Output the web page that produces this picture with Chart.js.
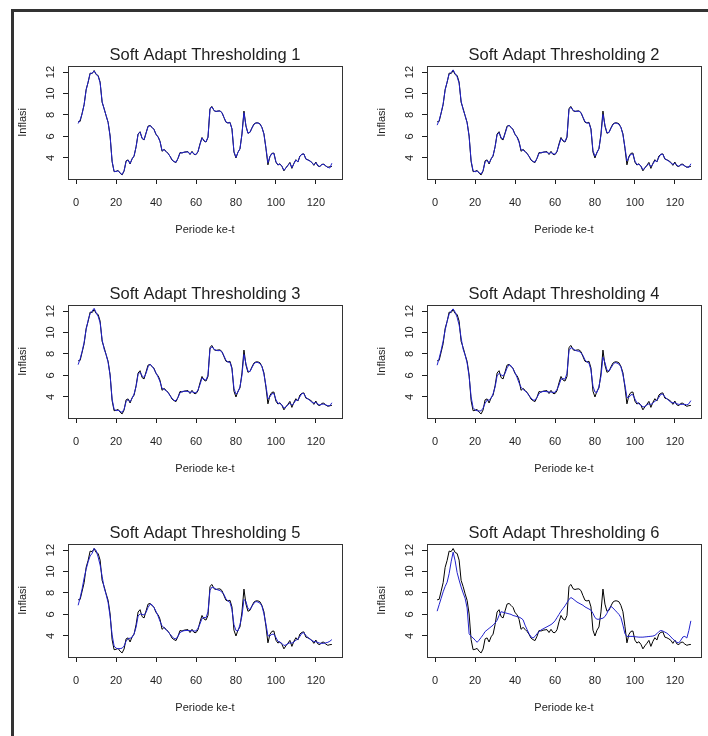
<!DOCTYPE html>
<html>
<head>
<meta charset="utf-8">
<script src="https://cdn.jsdelivr.net/npm/chart.js@4.4.0/dist/chart.umd.min.js"></script>
<style>
  html, body { margin: 0; padding: 0; background: #fff; width: 708px; height: 736px; overflow: hidden; }
  #frame { position: absolute; left: 11px; top: 9px; width: 710px; height: 740px; border-top: 3px solid #333; border-left: 3px solid #333; box-sizing: border-box; }
  canvas { position: absolute; }
</style>
</head>
<body>
<div id="frame"></div>
<canvas id="p1" width="344" height="205" style="left:8px;top:36px"></canvas>
<canvas id="p2" width="344" height="205" style="left:367px;top:36px"></canvas>
<canvas id="p3" width="344" height="205" style="left:8px;top:275px"></canvas>
<canvas id="p4" width="344" height="205" style="left:367px;top:275px"></canvas>
<canvas id="p5" width="344" height="205" style="left:8px;top:514px"></canvas>
<canvas id="p6" width="344" height="205" style="left:367px;top:514px"></canvas>
<script>
// periode ke-t (1..128)
const periode = Array.from({ length: 128 }, (_, i) => i + 1);

const xTicks = [0, 20, 40, 60, 80, 100, 120];
const yTicks = [4, 6, 8, 10, 12];

const judul = [
  'Soft Adapt Thresholding 1', 'Soft Adapt Thresholding 2',
  'Soft Adapt Thresholding 3', 'Soft Adapt Thresholding 4',
  'Soft Adapt Thresholding 5', 'Soft Adapt Thresholding 6'
];

// data inflasi aktual (garis hitam)
const inflasi = [
  7.36, 7.40, 8.17, 8.96, 10.38, 11.03, 11.90, 11.85, 12.14, 11.77,
  11.68, 11.06, 9.17, 8.60, 7.92, 7.31, 6.04, 3.65, 2.71, 2.75,
  2.83, 2.57, 2.41, 2.78, 3.72, 3.81, 3.43, 3.91, 4.16, 5.05,
  6.22, 6.44, 5.80, 5.67, 6.33, 6.96, 7.02, 6.84, 6.65, 6.16,
  5.98, 5.54, 4.61, 4.79, 4.61, 4.42, 4.15, 3.79, 3.65, 3.56,
  3.97, 4.50, 4.45, 4.53, 4.56, 4.58, 4.31, 4.61, 4.32, 4.30,
  4.57, 5.31, 5.90, 5.57, 5.47, 5.90, 8.61, 8.79, 8.40, 8.32,
  8.37, 8.38, 8.22, 7.75, 7.32, 7.25, 7.32, 6.70, 4.53, 3.99,
  4.53, 4.83, 6.23, 8.36, 6.96, 6.29, 6.38, 6.79, 7.15, 7.26,
  7.26, 7.18, 6.83, 6.25, 4.89, 3.35, 4.14, 4.42, 4.45, 3.60,
  3.33, 3.45, 3.21, 2.79, 3.07, 3.31, 3.58, 3.02, 3.49, 3.83,
  3.61, 4.17, 4.33, 4.37, 3.88, 3.82, 3.72, 3.58, 3.30, 3.61,
  3.25, 3.18, 3.40, 3.41, 3.23, 3.12, 3.18, 3.20
];

// hasil soft adaptive thresholding (garis biru)
const sat1 = [
  7.20, 7.55, 8.10, 9.00, 10.30, 11.10, 11.85, 11.90, 12.10, 11.80,
  11.60, 11.00, 9.25, 8.55, 7.95, 7.30, 6.00, 3.70, 2.75, 2.72,
  2.80, 2.60, 2.45, 2.80, 3.65, 3.80, 3.48, 3.90, 4.20, 5.00,
  6.20, 6.40, 5.85, 5.70, 6.30, 6.90, 7.00, 6.85, 6.62, 6.20,
  5.95, 5.50, 4.70, 4.75, 4.60, 4.40, 4.15, 3.82, 3.65, 3.60,
  3.95, 4.45, 4.48, 4.52, 4.55, 4.55, 4.35, 4.55, 4.35, 4.32,
  4.60, 5.25, 5.85, 5.60, 5.50, 5.95, 8.55, 8.75, 8.42, 8.33,
  8.35, 8.36, 8.20, 7.78, 7.35, 7.25, 7.28, 6.70, 4.60, 4.05,
  4.50, 4.85, 6.20, 8.20, 7.00, 6.30, 6.38, 6.78, 7.12, 7.25,
  7.25, 7.15, 6.85, 6.20, 4.95, 3.55, 4.10, 4.40, 4.40, 3.65,
  3.35, 3.42, 3.22, 2.85, 3.05, 3.30, 3.50, 3.10, 3.45, 3.80,
  3.62, 4.12, 4.35, 4.35, 3.90, 3.80, 3.70, 3.55, 3.35, 3.55,
  3.28, 3.20, 3.38, 3.38, 3.25, 3.12, 3.05, 3.50
];
const sat2 = [
  7.05, 7.50, 8.20, 9.05, 10.30, 11.10, 11.80, 11.95, 12.20, 11.85,
  11.55, 10.95, 9.30, 8.50, 7.95, 7.25, 6.00, 3.75, 2.80, 2.70,
  2.78, 2.62, 2.50, 2.82, 3.60, 3.78, 3.52, 3.88, 4.25, 5.00,
  6.15, 6.35, 5.90, 5.75, 6.25, 6.85, 7.05, 6.85, 6.60, 6.20,
  5.90, 5.45, 4.75, 4.72, 4.58, 4.40, 4.12, 3.85, 3.65, 3.62,
  3.95, 4.42, 4.50, 4.52, 4.55, 4.52, 4.40, 4.50, 4.38, 4.35,
  4.62, 5.20, 5.80, 5.62, 5.52, 6.00, 8.50, 8.72, 8.45, 8.35,
  8.33, 8.35, 8.20, 7.80, 7.38, 7.25, 7.25, 6.65, 4.70, 4.15,
  4.45, 4.90, 6.10, 8.05, 7.05, 6.35, 6.35, 6.75, 7.10, 7.25,
  7.22, 7.12, 6.85, 6.15, 5.00, 3.70, 4.05, 4.35, 4.35, 3.70,
  3.38, 3.40, 3.25, 2.90, 3.05, 3.28, 3.45, 3.18, 3.42, 3.75,
  3.65, 4.05, 4.35, 4.32, 3.92, 3.80, 3.68, 3.52, 3.40, 3.50,
  3.30, 3.22, 3.35, 3.35, 3.25, 3.15, 3.10, 3.45
];
const sat3 = [
  7.00, 7.55, 8.25, 9.10, 10.25, 11.15, 11.75, 12.00, 12.25, 11.85,
  11.50, 10.90, 9.35, 8.45, 7.95, 7.20, 6.00, 3.80, 2.85, 2.72,
  2.75, 2.65, 2.55, 2.85, 3.55, 3.75, 3.55, 3.85, 4.28, 4.95,
  6.10, 6.30, 5.95, 5.80, 6.20, 6.80, 7.05, 6.85, 6.58, 6.22,
  5.85, 5.40, 4.80, 4.70, 4.58, 4.40, 4.10, 3.88, 3.66, 3.65,
  3.95, 4.38, 4.50, 4.52, 4.52, 4.50, 4.42, 4.48, 4.40, 4.38,
  4.65, 5.15, 5.75, 5.65, 5.55, 6.05, 8.45, 8.68, 8.45, 8.35,
  8.30, 8.32, 8.18, 7.82, 7.40, 7.25, 7.22, 6.60, 4.80, 4.25,
  4.42, 4.95, 6.00, 7.95, 7.10, 6.40, 6.35, 6.72, 7.08, 7.22,
  7.20, 7.10, 6.85, 6.10, 5.05, 3.80, 4.00, 4.30, 4.30, 3.75,
  3.40, 3.38, 3.25, 2.95, 3.05, 3.25, 3.42, 3.22, 3.40, 3.70,
  3.68, 4.00, 4.32, 4.30, 3.95, 3.80, 3.66, 3.50, 3.42, 3.48,
  3.32, 3.25, 3.32, 3.32, 3.25, 3.18, 3.15, 3.45
];
const sat4 = [
  6.95, 7.60, 8.35, 9.20, 10.20, 11.05, 11.70, 12.00, 12.20, 11.90,
  11.40, 10.70, 9.50, 8.45, 7.90, 7.15, 5.90, 4.00, 3.00, 2.78,
  2.70, 2.68, 2.70, 2.95, 3.40, 3.70, 3.70, 3.85, 4.30, 4.90,
  5.95, 6.20, 6.05, 5.95, 6.20, 6.70, 7.00, 6.90, 6.60, 6.25,
  5.80, 5.30, 4.90, 4.70, 4.55, 4.38, 4.10, 3.90, 3.70, 3.70,
  3.95, 4.30, 4.45, 4.50, 4.50, 4.48, 4.45, 4.45, 4.42, 4.42,
  4.70, 5.10, 5.65, 5.70, 5.65, 6.20, 8.30, 8.60, 8.50, 8.35,
  8.28, 8.25, 8.10, 7.85, 7.45, 7.25, 7.15, 6.50, 5.00, 4.45,
  4.40, 5.00, 5.90, 7.70, 7.20, 6.50, 6.40, 6.70, 7.00, 7.20,
  7.15, 7.05, 6.80, 6.05, 5.10, 3.95, 3.95, 4.20, 4.20, 3.80,
  3.45, 3.35, 3.25, 3.05, 3.10, 3.25, 3.35, 3.30, 3.40, 3.60,
  3.70, 3.95, 4.25, 4.25, 4.00, 3.82, 3.65, 3.50, 3.45, 3.45,
  3.35, 3.30, 3.30, 3.30, 3.30, 3.25, 3.35, 3.65
];
const sat5 = [
  6.85, 7.55, 8.40, 9.40, 10.20, 10.90, 11.45, 11.70, 12.15, 11.95,
  11.35, 10.60, 9.55, 8.50, 7.85, 7.10, 5.80, 4.10, 3.05, 2.85,
  2.80, 2.82, 2.85, 3.05, 3.50, 3.75, 3.78, 3.85, 4.20, 4.80,
  5.85, 6.05, 6.00, 5.95, 6.20, 6.65, 6.95, 6.90, 6.62, 6.28,
  5.85, 5.35, 4.95, 4.75, 4.58, 4.40, 4.15, 3.95, 3.75, 3.72,
  3.98, 4.30, 4.42, 4.48, 4.50, 4.50, 4.48, 4.48, 4.45, 4.45,
  4.72, 5.12, 5.62, 5.72, 5.68, 6.25, 8.25, 8.55, 8.48, 8.35,
  8.28, 8.22, 8.08, 7.85, 7.45, 7.25, 7.12, 6.45, 5.05, 4.50,
  4.45, 5.05, 5.85, 7.40, 7.20, 6.55, 6.45, 6.75, 7.05, 7.20,
  7.15, 7.05, 6.78, 6.05, 5.10, 4.00, 4.00, 4.15, 4.15, 3.85,
  3.50, 3.40, 3.30, 3.10, 3.15, 3.28, 3.35, 3.32, 3.42, 3.60,
  3.70, 3.95, 4.25, 4.28, 4.05, 3.85, 3.70, 3.55, 3.48, 3.45,
  3.38, 3.32, 3.30, 3.30, 3.35, 3.40, 3.50, 3.65
];
const sat6 = [
  6.30, 6.90, 7.50, 8.10, 8.60, 9.00, 9.80, 10.90, 11.80, 11.00,
  9.90, 9.20, 8.55, 8.00, 7.50, 6.60, 4.20, 3.95, 3.80, 3.60,
  3.40, 3.60, 3.85, 4.10, 4.40, 4.55, 4.70, 4.85, 5.00, 5.20,
  5.45, 5.90, 6.25, 6.20, 6.15, 6.10, 6.05, 6.00, 5.90, 5.85,
  5.80, 5.75, 5.65, 5.50, 5.00, 4.60, 4.20, 3.90, 3.80, 3.95,
  4.20, 4.40, 4.55, 4.65, 4.75, 4.85, 4.95, 5.05, 5.20, 5.40,
  5.70, 6.00, 6.30, 6.55, 6.80, 7.10, 7.40, 7.57, 7.45, 7.30,
  7.15, 7.05, 6.95, 6.85, 6.70, 6.60, 6.50, 6.40, 6.10, 5.70,
  5.55, 5.55, 5.60, 5.65, 5.80, 6.10, 6.50, 6.75, 6.60, 6.40,
  6.20, 6.00, 5.70, 5.00, 4.20, 3.95, 3.95, 3.95, 3.95, 3.92,
  3.90, 3.88, 3.88, 3.88, 3.90, 3.92, 3.94, 3.96, 3.98, 4.05,
  4.20, 4.40, 4.50, 4.45, 4.35, 4.25, 4.10, 3.90, 3.70, 3.55,
  3.40, 3.35, 3.60, 3.90, 3.95, 3.80, 4.50, 5.40
];
const hasil = [sat1, sat2, sat3, sat4, sat5, sat6];

const fontFam = "'Liberation Sans', Arial, Helvetica, sans-serif";
const tinta = '#1e1e1e';
const biru = '#2222cc';

// kotak plot ala R (bty = "o")
const kotak = {
  id: 'kotak',
  afterDraw(chart) {
    const { ctx, chartArea: a } = chart;
    ctx.save();
    ctx.strokeStyle = '#333';
    ctx.lineWidth = 1;
    ctx.strokeRect(Math.round(a.left) + 0.5, Math.round(a.top) + 0.5,
      Math.round(a.right - a.left), Math.round(a.bottom - a.top));
    ctx.restore();
  }
};

const keTitik = arr => periode.map((t, i) => ({ x: t, y: arr[i] }));

function buatPanel(idx) {
  const el = document.getElementById('p' + (idx + 1));
  new Chart(el, {
    type: 'line',
    data: {
      datasets: [
        { label: 'SAT', data: keTitik(hasil[idx]), borderColor: biru, borderWidth: 1, pointRadius: 0, tension: 0, order: 0 },
        { label: 'Inflasi', data: keTitik(inflasi), borderColor: '#000', borderWidth: 1, pointRadius: 0, tension: 0, order: 1 }
      ]
    },
    options: {
      responsive: false,
      animation: false,
      events: [],
      layout: { padding: { left: 0, right: 10, top: 0, bottom: 0 } },
      plugins: {
        legend: { display: false },
        tooltip: { enabled: false },
        title: {
          display: true, text: judul[idx], color: tinta, fullSize: false,
          font: { family: fontFam, size: 16.5, weight: 'normal', lineHeight: 1.2 },
          padding: { top: 10, bottom: 0 }
        }
      },
      scales: {
        x: {
          type: 'linear', min: -4.08, max: 133.08,
          afterBuildTicks: s => { s.ticks = xTicks.map(v => ({ value: v })); },
          afterFit: s => { s.height = 62; },
          grid: { drawOnChartArea: false, drawTicks: true, tickLength: 5, color: tinta, lineWidth: 1 },
          border: { display: false },
          ticks: { color: tinta, font: { family: fontFam, size: 11 }, padding: 12.5, maxRotation: 0, minRotation: 0, autoSkip: false },
          title: { display: true, text: 'Periode ke-t', color: tinta, font: { family: fontFam, size: 11 }, padding: { top: 0, bottom: 4.5 } }
        },
        y: {
          type: 'linear', min: 2.03, max: 12.58,
          afterBuildTicks: s => { s.ticks = yTicks.map(v => ({ value: v })); },
          afterFit: s => { s.width = 60; },
          grid: { drawOnChartArea: false, drawTicks: true, tickLength: 5, color: tinta, lineWidth: 1 },
          border: { display: false },
          ticks: { color: tinta, font: { family: fontFam, size: 11 }, padding: 5.6, minRotation: 90, maxRotation: 90, crossAlign: 'center', autoSkip: false },
          title: { display: true, text: 'Inflasi', color: tinta, font: { family: fontFam, size: 11 }, padding: { top: 8.5, bottom: 0 } }
        }
      }
    },
    plugins: [kotak]
  });
}

for (let i = 0; i < 6; i++) buatPanel(i);
</script>
</body>
</html>
